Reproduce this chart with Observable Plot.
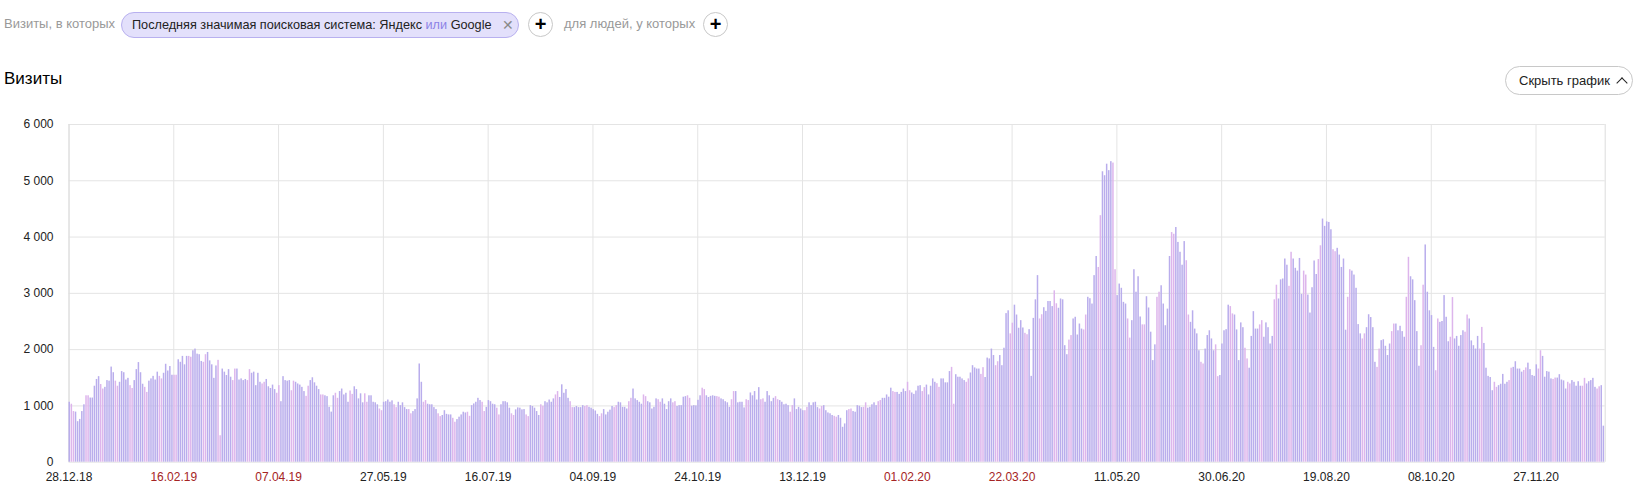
<!DOCTYPE html>
<html>
<head>
<meta charset="utf-8">
<script src="https://cdn.jsdelivr.net/npm/d3@7"></script>
<script src="https://cdn.jsdelivr.net/npm/@observablehq/plot@0.6"></script>
<style>
  html, body { margin: 0; padding: 0; background: #fff; }
  body { width: 1635px; height: 500px; overflow: hidden; position: relative;
         font-family: Arial, "Liberation Sans", sans-serif; }
  .abs { position: absolute; white-space: nowrap; }
  .grey { color: #999; font-size: 13px; line-height: 16px; }
  .chip { left: 121px; top: 12px; width: 398px; height: 26px; box-sizing: border-box;
          border: 1px solid #b8b0ef; background: #e3e0fb; border-radius: 13px;
          font-size: 12.7px; line-height: 24px; color: #222; padding-left: 10px; }
  .chip .or { color: #8c82e6; }
  .chip .x { position: absolute; left: 380px; top: 0; color: #8a8a8a; font-size: 14px; }
  .plus { width: 25px; height: 25px; box-sizing: border-box; border: 1px solid #c8c8c8;
          border-radius: 50%; text-align: center; font-size: 20px; line-height: 22px;
          font-weight: bold; color: #000; }
  .title { left: 4px; top: 69px; font-size: 17px; color: #000; }
  .btn { left: 1505px; top: 66px; width: 128px; height: 29px; box-sizing: border-box;
         border: 1px solid #c8c8c8; border-radius: 15px; font-size: 13px; line-height: 27px;
         color: #222; padding-left: 13px; }
  #chart { position: absolute; left: 0; top: 100px; }
</style>
</head>
<body>
<div class="abs grey" style="left:4px;top:16px;">Визиты, в которых</div>
<div class="abs chip">Последняя значимая поисковая система: Яндекс <span class="or">или</span> Google<span class="x">✕</span></div>
<div class="abs plus" style="left:528px;top:12px;">+</div>
<div class="abs grey" style="left:564px;top:16px;">для людей, у которых</div>
<div class="abs plus" style="left:703px;top:12px;">+</div>
<div class="abs title">Визиты</div>
<div class="abs btn">Скрыть график <span style="display:inline-block;width:7px;height:7px;border-left:1.4px solid #222;border-top:1.4px solid #222;transform:rotate(45deg);margin-left:5px;position:relative;top:2px;"></span></div>
<div id="chart"></div>
<script>
// ---- data ----
const startDate = "2018-12-28";
const visits = [
  1065,1030,900,890,720,760,900,1020,1180,1180,
  1140,1140,1350,1470,1520,1380,1300,1330,1450,1440,
  1690,1590,1440,1350,1420,1610,1590,1460,1490,1360,
  1310,1450,1645,1770,1590,1385,1330,1240,1440,1480,
  1525,1460,1600,1525,1480,1580,1740,1620,1700,1545,
  1545,1545,1820,1775,1880,1730,1880,1880,1865,1980,
  2010,1920,
  1910,1790,1775,1910,1950,1800,1730,1490,1710,1810,470,
  1655,1600,1540,1645,1510,1450,1655,1655,1460,1480,
  1450,1470,1450,1645,1580,1600,1360,1580,1420,1390,
  1420,1470,1340,1310,1370,1290,1225,1360,1075,1520,
  1450,1440,1450,1270,1440,1420,1390,1370,1330,1255,
  1170,1350,1450,1500,1410,1350,1290,1195,1195,1180,
  1165,975,890,1180,1225,1135,1255,1300,1195,1225,
  1065,1265,1205,1340,1290,1125,1215,1055,1215,1065,
  1180,1180,1065,1055,1020,945,915,1065,1075,1105,
  1065,1090,1020,970,1065,1005,1055,970,935,935,
  860,900,935,1125,1745,1420,1065,1095,1030,1020,
  1020,970,935,860,810,830,915,850,840,840,
  780,
  710,757,800,840,888,875,888,815,1005,1035,
  1065,1135,1095,1065,900,975,1095,1075,1030,1020,
  960,840,1020,1075,1075,1055,960,860,830,930,
  965,960,930,935,840,810,1005,990,960,900,
  830,1020,995,1075,1055,1105,1065,1125,1195,1255,
  1150,1375,1225,1290,1135,1075,970,970,990,970,
  970,
  1005,990,1005,975,960,935,910,850,810,860,
  935,840,888,925,990,970,1005,1065,1055,975,
  975,945,1075,1135,1300,1125,1095,1065,1030,1195,
  1165,1075,1055,945,975,1125,1110,1065,1125,1030,
  935,1075,1125,1055,1075,990,1005,1005,1155,1165,
  1180,1135,995,1005,1000,1100,1180,1315,1290,1180,
  1150,
  1170,1180,1170,1165,1155,1125,1110,1075,1055,975,
  1110,1255,1255,1055,1065,1065,965,1110,1095,1230,
  1180,1255,1105,1325,1110,1125,1065,1255,1180,1075,
  1135,1165,1110,1095,1065,1020,1030,1005,888,1005,
  1125,935,975,945,915,915,975,1055,1005,1055,
  1065,970,945,990,1005,915,875,860,830,815,
  800,
  830,780,620,680,915,935,945,900,888,1005,
  995,970,975,1055,960,975,1020,1055,1005,1075,
  1095,1135,1135,1195,1155,1315,1255,1240,1240,1205,
  1240,1300,1255,1420,1270,1230,1205,1265,1350,1360,
  1255,1325,1370,1195,1350,1480,1420,1395,1330,1480,
  1480,1410,1410,1610,1685,1030,1555,1510,1510,1480,
  1450,
  1420,1480,1585,1715,1675,1655,1655,1560,1680,1505,
  1850,1835,2010,1895,1715,1785,1895,1715,2025,2640,
  2690,2280,2470,2790,2615,2380,2515,2385,2290,2265,
  2355,1525,2555,2885,3315,2545,2620,2745,2680,2855,
  2855,2765,3045,2815,2735,2900,2885,2070,1910,2170,
  2250,2545,2575,2260,2455,2365,2350,2615,2930,2905,
  2810,
  3315,3655,3460,4380,5160,5090,5295,5180,5340,5315,
  3420,2960,3165,3090,2840,2810,2545,2205,2515,3420,
  3020,3295,2580,2440,2440,2940,2740,2310,1805,2085,
  2930,3020,3135,2810,2425,2720,3655,4080,4050,4170,
  3905,3730,3500,3920,3580,2615,2485,2690,2365,2280,
  1980,1775,1745,2010,2250,2335,2190,1980,2085,1520,
  1540,
  2100,2335,2355,2790,2765,2635,2615,2350,1805,2475,
  2390,2025,1835,1670,2235,2675,2365,2365,2440,2515,
  2220,2475,2390,2100,2235,2885,3145,2900,3240,3255,
  3610,3500,3125,3730,3610,3445,3395,3620,2980,3395,
  3325,2970,2650,3100,3575,3335,3600,3845,4320,4190,
  4270,4260,4130,3775,3740,3800,3680,3460,3610,2345,
  2930,
  3420,3395,3325,3090,2445,2280,2190,2280,2390,2620,
  2570,2390,1775,1685,2010,2160,2175,2060,1895,2100,
  2320,2455,2455,2335,2415,2320,2220,2930,3640,3295,
  3240,2870,2320,1705,2070,3145,3860,3020,2690,2605,
  2040,1625,2545,2485,2500,2960,2575,2140,2220,2925,
  2190,2235,2060,2250,2335,2310,2615,2545,2155,2070,
  2010,
  2235,2010,2395,2110,1670,1525,1505,1270,1420,1330,
  1360,1385,1560,1385,1420,1450,1670,1685,1785,1655,
  1655,1600,1630,1675,1760,1645,1540,1525,1730,1655,
  1980,1880,1510,1610,1600,1480,1470,1495,1495,1555,
  1460,1445,1300,1420,1390,1450,1420,1350,1430,1350,
  1350,1490,1390,1430,1450,1490,1330,1300,1340,1360,
  640
];
const tickLabels = ["28.12.18","16.02.19","07.04.19","27.05.19","16.07.19","04.09.19","24.10.19",
  "13.12.19","01.02.20","22.03.20","11.05.20","30.06.20","19.08.20","08.10.20","27.11.20"];
const yTicks = [0, 1000, 2000, 3000, 4000, 5000, 6000];

// ---- derived tables ----
const start = d3.utcParse("%Y-%m-%d")(startDate);
const end = d3.utcDay.offset(start, visits.length);
const rows = visits.map((v, i) => ({date: d3.utcDay.offset(start, i), value: v}));
const isWeekend = d => { const w = d.getUTCDay(); return w === 0 || w === 6; };
const parseTick = d3.utcParse("%d.%m.%y");
const ticks = tickLabels.map(s => ({label: s, date: parseTick(s)}));
const fmtY = d => d === 0 ? "0" : d3.format(",")(d).replace(/,/g, " ");

const gridColor = "#e4e4e4";
const chart = Plot.plot({
  width: 1635,
  height: 400,
  marginLeft: 68.5,
  marginRight: 30.3,
  marginTop: 24,
  marginBottom: 38.3,
  style: {fontFamily: "Arial, 'Liberation Sans', sans-serif", fontSize: "12px", background: "transparent"},
  x: {type: "utc", domain: [start, end], axis: null},
  y: {domain: [0, 6000], axis: null},
  marks: [
    Plot.gridY(yTicks, {stroke: gridColor, strokeOpacity: 1}),
    Plot.gridX(ticks.map(t => t.date), {stroke: gridColor, strokeOpacity: 1}),
    Plot.ruleX([start, end], {stroke: "#dcdcdc", strokeWidth: 1}),
    Plot.rectY(rows.filter(d => !isWeekend(d.date)), {x: "date", y: "value", interval: "day", fill: "#b9adec", insetRight: 0.6}),
    Plot.rectY(rows.filter(d => isWeekend(d.date)), {x: "date", y: "value", interval: "day", fill: "#ddb5ec", insetRight: 0.6}),
    Plot.axisY(yTicks, {tickSize: 0, tickPadding: 15.5, tickFormat: fmtY, fontSize: 12, fill: "#222", label: null}),
    Plot.text(ticks.filter(t => !isWeekend(t.date)), {x: "date", text: "label", frameAnchor: "bottom", dy: 18.5, fontSize: 12, fill: "#222"}),
    Plot.text(ticks.filter(t => isWeekend(t.date)), {x: "date", text: "label", frameAnchor: "bottom", dy: 18.5, fontSize: 12, fill: "#a52424"})
  ]
});
document.getElementById("chart").appendChild(chart);
</script>
</body>
</html>
